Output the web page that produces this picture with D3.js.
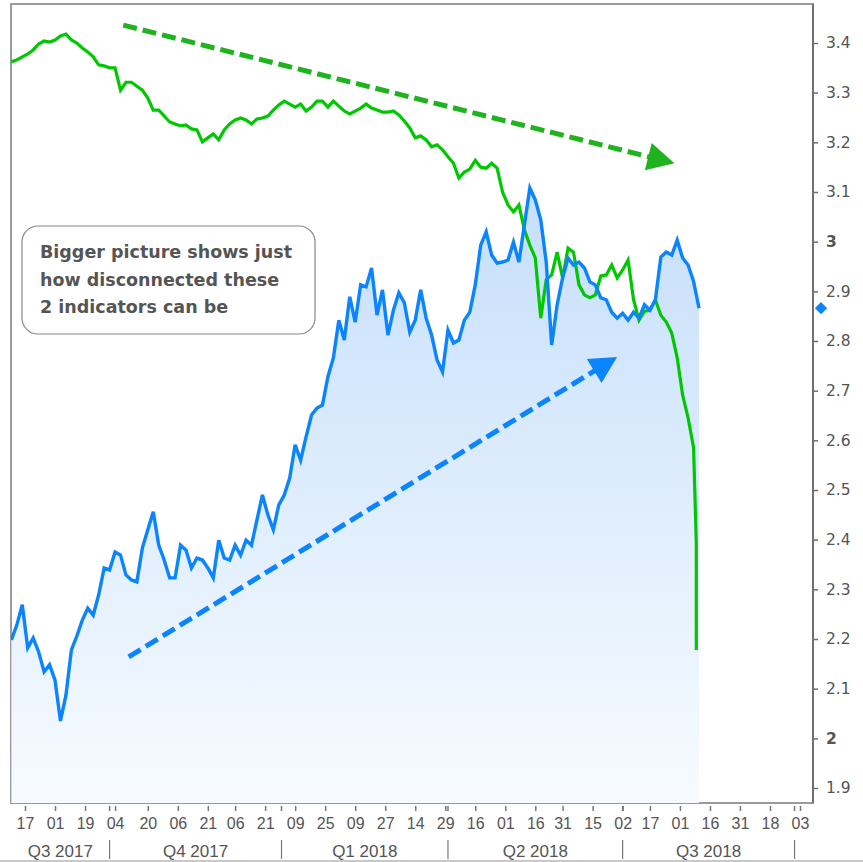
<!DOCTYPE html>
<html>
<head>
<meta charset="utf-8">
<script src="https://cdn.jsdelivr.net/npm/d3@7"></script>
<style>
  body { margin: 0; background: #fff; }
  svg { display: block; }
</style>
</head>
<body>
<svg id="chart" width="863" height="862"></svg>
<script>
// --- Data ---
const firstDay = "2017-08-10";
const lastDay = "2018-10-10";
const holidays = ["2017-09-04", "2017-11-23", "2017-12-25", "2018-01-01", "2018-01-15",
    "2018-02-19", "2018-03-30", "2018-05-28", "2018-07-04", "2018-09-03"];

// one value every 2 trading days from firstDay
const sampleStep = 2;
const blueValues = [
    2.198, 2.228, 2.269, 2.182, 2.202, 2.174, 2.134, 2.148, 2.117, 2.035,
    2.087, 2.178, 2.206, 2.238, 2.262, 2.248, 2.289, 2.343, 2.339, 2.375,
    2.369, 2.329, 2.319, 2.315, 2.383, 2.42, 2.456, 2.389, 2.359, 2.323,
    2.323, 2.389, 2.379, 2.343, 2.363, 2.359, 2.343, 2.323, 2.399, 2.363,
    2.359, 2.389, 2.369, 2.399, 2.389, 2.44, 2.49, 2.45, 2.42, 2.47,
    2.49, 2.524, 2.591, 2.56, 2.607, 2.651, 2.665, 2.671, 2.728, 2.766,
    2.842, 2.802, 2.889, 2.838, 2.913, 2.909, 2.947, 2.852, 2.903, 2.812,
    2.862, 2.897, 2.877, 2.818, 2.842, 2.903, 2.846, 2.812, 2.762, 2.738,
    2.822, 2.796, 2.802, 2.842, 2.858, 2.913, 2.993, 3.02, 2.973, 2.957,
    2.959, 2.963, 2.999, 2.959, 3.034, 3.108, 3.084, 3.044, 2.959, 2.792,
    2.873, 2.927, 2.967, 2.953, 2.959, 2.947, 2.919, 2.913, 2.887, 2.883,
    2.858, 2.846, 2.856, 2.842, 2.858, 2.846, 2.873, 2.862, 2.883, 2.969,
    2.979, 2.973, 3.003, 2.967, 2.953, 2.92, 2.866
];
const greenValues = [
    3.362, 3.366, 3.372, 3.378, 3.386, 3.398, 3.404, 3.402, 3.406, 3.414,
    3.418, 3.406, 3.40, 3.39, 3.382, 3.372, 3.356, 3.354, 3.35, 3.35,
    3.305, 3.321, 3.321, 3.313, 3.305, 3.289, 3.265, 3.265, 3.253, 3.241,
    3.237, 3.233, 3.235, 3.227, 3.225, 3.201, 3.209, 3.217, 3.205, 3.225,
    3.237, 3.245, 3.249, 3.245, 3.237, 3.247, 3.249, 3.253, 3.265, 3.275,
    3.283, 3.277, 3.271, 3.277, 3.263, 3.271, 3.283, 3.283, 3.271, 3.283,
    3.273, 3.263, 3.257, 3.263, 3.269, 3.277, 3.269, 3.265, 3.261, 3.261,
    3.263, 3.255, 3.243, 3.229, 3.209, 3.213, 3.205, 3.191, 3.195, 3.185,
    3.171, 3.158, 3.128, 3.14, 3.146, 3.164, 3.15, 3.148, 3.158, 3.148,
    3.1, 3.074, 3.06, 3.074, 3.024, 2.993, 2.967, 2.846, 2.923, 2.933,
    2.979, 2.927, 2.987, 2.979, 2.913, 2.893, 2.887, 2.893, 2.931, 2.933,
    2.953, 2.927, 2.943, 2.963, 2.883, 2.842, 2.86, 2.862, 2.883, 2.852,
    2.838, 2.816, 2.766, 2.691, 2.645, 2.585
];
// last day's sharp drop of the green series
const greenTailDay = "2018-08-09";
const greenTail = [2.393, 2.178];

const yTicks = [1.9, 2, 2.1, 2.2, 2.3, 2.4, 2.5, 2.6, 2.7, 2.8, 2.9, 3, 3.1, 3.2, 3.3, 3.4];
const xTickDays = ["2017-08-17", "2017-09-01", "2017-09-19", "2017-10-04", "2017-10-20",
    "2017-11-06", "2017-11-21", "2017-12-06", "2017-12-21", "2018-01-09", "2018-01-25",
    "2018-02-09", "2018-02-27", "2018-03-14", "2018-03-29", "2018-04-16", "2018-05-01",
    "2018-05-16", "2018-05-31", "2018-06-15", "2018-07-02", "2018-07-17", "2018-08-01",
    "2018-08-16", "2018-08-31", "2018-09-18", "2018-10-03"];
const quarterStarts = ["2017-10-02", "2018-01-02", "2018-04-02", "2018-07-02", "2018-10-01"];
const quarterLabels = ["Q3 2017", "Q4 2017", "Q1 2018", "Q2 2018", "Q3 2018"];

const noteLines = ["Bigger picture shows just", "how disconnected these", "2 indicators can be"];
const greenArrow = { from: ["2017-10-09", 3.436], to: ["2018-07-30", 3.158] };
const blueArrow = { from: ["2017-10-11", 2.164], to: ["2018-06-28", 2.768] };

// --- Layout ---
const plot = { left: 11, right: 813, top: 4, bottom: 803 };
const blueColor = "#0a84ff";
const greenColor = "#00c800";
const greenArrowColor = "#1fb41f";
const textColor = "#555";

// --- Trading day axis ---
const parse = d3.utcParse("%Y-%m-%d");
const fmt = d3.utcFormat("%Y-%m-%d");
const holidaySet = new Set(holidays);
const tradingDays = d3.utcDay.range(parse(firstDay), d3.utcDay.offset(parse(lastDay), 1))
    .filter(d => d.getUTCDay() !== 0 && d.getUTCDay() !== 6 && !holidaySet.has(fmt(d)));
const dayIndex = new Map(tradingDays.map((d, i) => [fmt(d), i]));
const idx = s => dayIndex.get(s);

const x = d3.scaleLinear()
    .domain([idx("2017-08-17"), idx("2018-10-03")])
    .range([25, 800]);
const y = d3.scaleLinear()
    .domain([1.9, 3.4])
    .range([788, 43]);

const blue = blueValues.map((v, i) => ({ i: i * sampleStep, v }));
const green = greenValues.map((v, i) => ({ i: i * sampleStep, v }))
    .concat(greenTail.map(v => ({ i: idx(greenTailDay), v })));

const svg = d3.select("#chart");

// --- Defs ---
const defs = svg.append("defs");
defs.append("clipPath").attr("id", "plot-clip")
    .append("rect")
    .attr("x", plot.left).attr("y", plot.top)
    .attr("width", plot.right - plot.left).attr("height", plot.bottom - plot.top);
const grad = defs.append("linearGradient")
    .attr("id", "blue-fill")
    .attr("gradientUnits", "userSpaceOnUse")
    .attr("x1", 0).attr("x2", 0)
    .attr("y1", y(3.1)).attr("y2", plot.bottom);
grad.append("stop").attr("offset", 0).attr("stop-color", "#c6dffb");
grad.append("stop").attr("offset", 1).attr("stop-color", "#f7fbff");

// --- Frame ---
svg.append("rect")
    .attr("x", plot.left).attr("y", plot.top)
    .attr("width", plot.right - plot.left).attr("height", plot.bottom - plot.top)
    .attr("fill", "#fff")
    .attr("stroke", "#9a9a9a")
    .attr("stroke-width", 2);

const chart = svg.append("g").attr("clip-path", "url(#plot-clip)");

// --- Blue area ---
chart.append("path")
    .datum(blue)
    .attr("fill", "url(#blue-fill)")
    .attr("d", d3.area().x(d => x(d.i)).y0(plot.bottom).y1(d => y(d.v)));

// --- Lines ---
chart.append("path")
    .datum(green)
    .attr("fill", "none")
    .attr("stroke", greenColor)
    .attr("stroke-width", 3.2)
    .attr("d", d3.line().x(d => x(d.i)).y(d => y(d.v)));

chart.append("path")
    .datum(blue)
    .attr("fill", "none")
    .attr("stroke", blueColor)
    .attr("stroke-width", 3.4)
    .attr("d", d3.line().x(d => x(d.i)).y(d => y(d.v)));

// --- Dashed arrows ---
function drawArrow(a, color) {
    const x0 = x(idx(a.from[0])), y0 = y(a.from[1]);
    const x1 = x(idx(a.to[0])), y1 = y(a.to[1]);
    const len = Math.hypot(x1 - x0, y1 - y0);
    const ux = (x1 - x0) / len, uy = (y1 - y0) / len;
    const head = 27, half = 14;
    const bx = x1 - ux * head, by = y1 - uy * head;
    chart.append("line")
        .attr("x1", x0).attr("y1", y0)
        .attr("x2", bx + ux * 2).attr("y2", by + uy * 2)
        .attr("stroke", color)
        .attr("stroke-width", 5)
        .attr("stroke-dasharray", "14,6");
    chart.append("path")
        .attr("fill", color)
        .attr("d", `M${x1},${y1}L${bx - uy * half},${by + ux * half}L${bx + uy * half},${by - ux * half}Z`);
}
drawArrow(greenArrow, greenArrowColor);
drawArrow(blueArrow, blueColor);

// --- Note box ---
const note = svg.append("g");
note.append("rect")
    .attr("x", 22).attr("y", 226)
    .attr("width", 293).attr("height", 108)
    .attr("rx", 16)
    .attr("fill", "#fff")
    .attr("stroke", "#888")
    .attr("stroke-width", 1.2);
note.selectAll("text")
    .data(noteLines)
    .join("text")
    .attr("x", 40)
    .attr("y", (d, i) => 258 + i * 27.5)
    .attr("fill", textColor)
    .style("font-family", "'DejaVu Sans', sans-serif")
    .style("font-weight", "bold")
    .style("font-size", "17.5px")
    .text(d => d);

// --- Y axis (right) ---
const yAxis = svg.append("g")
    .attr("transform", `translate(${plot.right},0)`)
    .call(d3.axisRight(y)
        .tickValues(yTicks)
        .tickSize(5)
        .tickPadding(8)
        .tickFormat(d => Math.abs(d - Math.round(d)) < 1e-9 ? d3.format("d")(d) : d3.format(".1f")(d)));
yAxis.select(".domain")
    .attr("d", `M0,${plot.top}V${plot.bottom}`)
    .attr("stroke", "#6f6f6f")
    .attr("stroke-width", 2);
yAxis.selectAll(".tick line").attr("stroke", "#6f6f6f").attr("stroke-width", 1.5);
yAxis.selectAll(".tick text")
    .attr("fill", textColor)
    .style("font-family", "'DejaVu Sans', sans-serif")
    .style("font-size", "15.5px")
    .style("font-weight", d => Math.abs(d - Math.round(d)) < 1e-9 ? "bold" : "normal");

// Last value marker (square turned 45 degrees)
svg.append("path")
    .attr("transform", `translate(${plot.right + 8},${y(blueValues[blueValues.length - 1])}) rotate(45)`)
    .attr("fill", blueColor)
    .attr("d", d3.symbol(d3.symbolSquare, 75)());

// --- X axis (trading days) ---
const xAxis = svg.append("g")
    .attr("transform", `translate(0,${plot.bottom + 3})`)
    .call(d3.axisBottom(x)
        .tickValues(xTickDays.map(idx))
        .tickSize(5)
        .tickPadding(7)
        .tickFormat(i => d3.utcFormat("%d")(tradingDays[i])));
xAxis.select(".domain").remove();
xAxis.selectAll(".tick line").attr("stroke", "#777").attr("stroke-width", 1.5);
xAxis.selectAll(".tick text")
    .attr("fill", textColor)
    .style("font-family", "'Liberation Sans', sans-serif")
    .style("font-size", "16px");

// quarter boundaries: small ticks and dividers
const qx = quarterStarts.map(s => x(idx(s)));
svg.append("g").selectAll("line")
    .data(qx)
    .join("line")
    .attr("x1", d => d).attr("x2", d => d)
    .attr("y1", plot.bottom + 3).attr("y2", plot.bottom + 8)
    .attr("stroke", "#777").attr("stroke-width", 1.5);
svg.append("g").selectAll("line")
    .data(qx)
    .join("line")
    .attr("x1", d => d).attr("x2", d => d)
    .attr("y1", 840).attr("y2", 859)
    .attr("stroke", "#777").attr("stroke-width", 1.2);

const qEdges = [plot.left].concat(qx);
svg.append("g").selectAll("text")
    .data(quarterLabels)
    .join("text")
    .attr("x", (d, i) => (qEdges[i] + qEdges[i + 1]) / 2)
    .attr("y", 857)
    .attr("text-anchor", "middle")
    .attr("fill", textColor)
    .style("font-family", "'Liberation Sans', sans-serif")
    .style("font-size", "17px")
    .text(d => d);

// bottom strip
svg.append("rect")
    .attr("x", 0).attr("y", 860)
    .attr("width", 863).attr("height", 2)
    .attr("fill", "#c8c8c8");
</script>
</body>
</html>
